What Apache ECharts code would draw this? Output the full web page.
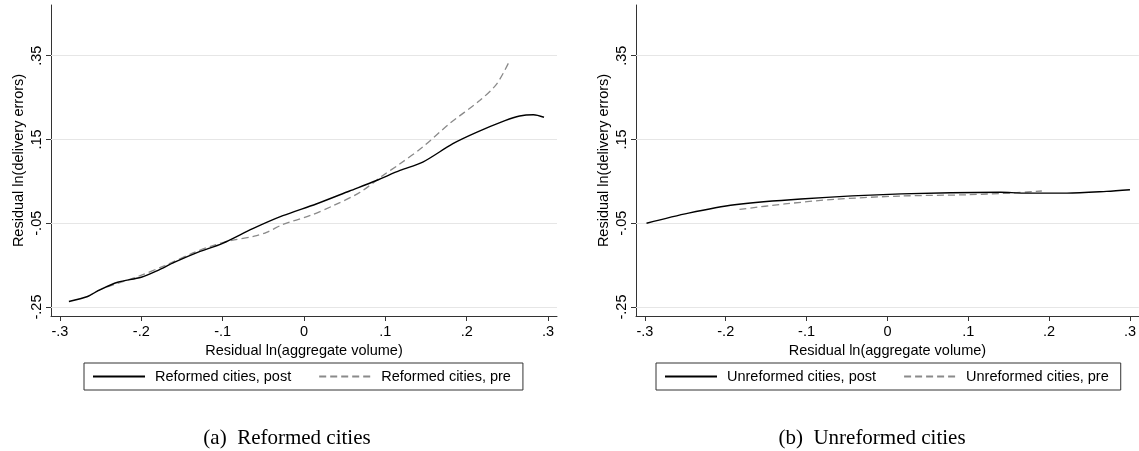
<!DOCTYPE html>
<html>
<head>
<meta charset="utf-8">
<script src="https://cdn.jsdelivr.net/npm/echarts@6/dist/echarts.min.js"></script>
<style>
html,body{margin:0;padding:0;background:#fff;}
#chart{width:1139px;height:451px;}
</style>
</head>
<body>
<div id="chart"></div>
<script>
// ---- Data ----
const xTicks = [-0.3, -0.2, -0.1, 0, 0.1, 0.2, 0.3];
const xTickLabels = ['-.3', '-.2', '-.1', '0', '.1', '.2', '.3'];
const yTicks = [-0.25, -0.05, 0.15, 0.35];
const yTickLabels = ['-.25', '-.05', '.15', '.35'];

// Panel (a): Reformed cities
const reformedPostX = [-0.289, -0.266, -0.253, -0.229, -0.200, -0.180, -0.159, -0.130, -0.100, -0.063, -0.026, 0.015, 0.056, 0.089, 0.118, 0.146, 0.183, 0.212, 0.247, 0.265, 0.282, 0.295];
const reformedPostY = [-0.237, -0.225, -0.211, -0.191, -0.179, -0.163, -0.143, -0.119, -0.098, -0.063, -0.032, -0.004, 0.027, 0.052, 0.076, 0.096, 0.140, 0.167, 0.195, 0.206, 0.209, 0.203];
const reformedPreX = [-0.266, -0.249, -0.204, -0.171, -0.134, -0.110, -0.089, -0.061, -0.046, -0.026, 0.007, 0.036, 0.069, 0.097, 0.118, 0.146, 0.179, 0.216, 0.237, 0.253];
const reformedPreY = [-0.225, -0.207, -0.177, -0.151, -0.119, -0.102, -0.091, -0.081, -0.072, -0.053, -0.032, -0.008, 0.024, 0.064, 0.092, 0.132, 0.188, 0.243, 0.283, 0.339];

// Panel (b): Unreformed cities
const unreformedPostX = [-0.298, -0.246, -0.189, -0.107, 0.017, 0.140, 0.168, 0.222, 0.271, 0.300];
const unreformedPostY = [-0.050, -0.026, -0.006, 0.008, 0.020, 0.024, 0.022, 0.022, 0.026, 0.030];
const unreformedPreX = [-0.183, -0.127, -0.066, 0.017, 0.099, 0.160, 0.191];
const unreformedPreY = [-0.017, -0.004, 0.007, 0.015, 0.018, 0.023, 0.027];

const legendNames = [
  ['Reformed cities, post', 'Reformed cities, pre'],
  ['Unreformed cities, post', 'Unreformed cities, pre']
];
const captions = ['(a)  Reformed cities', '(b)  Unreformed cities'];
const xTitle = 'Residual ln(aggregate volume)';
const yTitle = 'Residual ln(delivery errors)';

// ---- Build chart ----
const zip = (xs, ys) => xs.map((x, i) => [x, ys[i]]);
const fmt = (ticks, labels) => (v) => {
  const i = ticks.findIndex(t => Math.abs(t - v) < 1e-9);
  return i >= 0 ? labels[i] : '';
};
const FONT = 'Liberation Sans, Arial, sans-serif';
const FS = 14.5;
const axisColor = '#333';

const grids = [
  { left: 51, top: 5, width: 506, height: 311 },
  { left: 636, top: 5, width: 505, height: 311 }
];

function xAxisFor(i) {
  return {
    type: 'value', gridIndex: i, min: -0.311, max: 0.311,
    name: xTitle, nameLocation: 'middle', nameGap: 24,
    nameTextStyle: { fontFamily: FONT, fontSize: FS, color: '#000' },
    axisLine: { show: true, onZero: false, lineStyle: { color: axisColor, width: 1 } },
    axisTick: { show: true, length: 5, inside: false, customValues: xTicks, lineStyle: { color: axisColor } },
    axisLabel: { customValues: xTicks, formatter: fmt(xTicks, xTickLabels), margin: 8,
      fontFamily: FONT, fontSize: FS, color: '#000' },
    splitLine: { show: false }
  };
}
function yAxisFor(i) {
  return {
    type: 'value', gridIndex: i, min: -0.2715, max: 0.4711,
    name: yTitle, nameLocation: 'middle', nameGap: 25,
    nameTextStyle: { fontFamily: FONT, fontSize: FS, color: '#000' },
    axisLine: { show: true, onZero: false, lineStyle: { color: axisColor, width: 1 } },
    axisTick: { show: true, length: 5, inside: false, customValues: yTicks, lineStyle: { color: axisColor } },
    axisLabel: { customValues: yTicks, formatter: fmt(yTicks, yTickLabels), rotate: 90, margin: 7,
      fontFamily: FONT, fontSize: FS, color: '#000' },
    splitLine: { show: false }
  };
}
function gridSeries(i) {
  return {
    type: 'line', xAxisIndex: i, yAxisIndex: i, data: [], z: 1, silent: true,
    markLine: {
      silent: true, symbol: 'none', z: 1, animation: false,
      label: { show: false },
      lineStyle: { color: '#e6e6e6', type: 'solid', width: 1.2 },
      data: yTicks.map(v => ({ yAxis: v }))
    }
  };
}
function postSeries(i, name, xs, ys) {
  return {
    type: 'line', name, xAxisIndex: i, yAxisIndex: i, data: zip(xs, ys),
    smooth: 0.3, symbol: 'none', z: 3,
    lineStyle: { color: '#000', width: 1.4, type: 'solid' },
    itemStyle: { color: '#000' }
  };
}
function preSeries(i, name, xs, ys) {
  return {
    type: 'line', name, xAxisIndex: i, yAxisIndex: i, data: zip(xs, ys),
    smooth: 0.3, symbol: 'none', z: 2,
    lineStyle: { color: '#8a8a8a', width: 1.3, type: [7, 4] },
    itemStyle: { color: '#8a8a8a' }
  };
}
function legendFor(i, left) {
  return {
    data: legendNames[i],
    left: left, top: 363,
    orient: 'horizontal',
    itemWidth: 52, itemHeight: 12, itemGap: 27,
    padding: [6, 12, 6, 8],
    borderColor: '#333', borderWidth: 1, borderRadius: 0,
    itemStyle: { opacity: 0 },
    textStyle: { fontFamily: FONT, fontSize: FS, color: '#000', padding: [0, 0, 0, 5] },
    selectedMode: false
  };
}

const option = {
  animation: false,
  backgroundColor: '#fff',
  grid: grids,
  xAxis: [xAxisFor(0), xAxisFor(1)],
  yAxis: [yAxisFor(0), yAxisFor(1)],
  legend: [legendFor(0, 84), legendFor(1, 656)],
  title: [
    { text: captions[0], left: 282, top: 423, textAlign: 'center',
      textStyle: { fontFamily: 'Liberation Serif, Times New Roman, serif', fontSize: 21, fontWeight: 'normal', color: '#000' } },
    { text: captions[1], left: 867, top: 423, textAlign: 'center',
      textStyle: { fontFamily: 'Liberation Serif, Times New Roman, serif', fontSize: 21, fontWeight: 'normal', color: '#000' } }
  ],
  series: [
    gridSeries(0), gridSeries(1),
    preSeries(0, legendNames[0][1], reformedPreX, reformedPreY),
    postSeries(0, legendNames[0][0], reformedPostX, reformedPostY),
    preSeries(1, legendNames[1][1], unreformedPreX, unreformedPreY),
    postSeries(1, legendNames[1][0], unreformedPostX, unreformedPostY)
  ]
};
const chart = echarts.init(document.getElementById('chart'), null, { renderer: 'canvas' });
chart.setOption(option);
</script>
</body>
</html>
